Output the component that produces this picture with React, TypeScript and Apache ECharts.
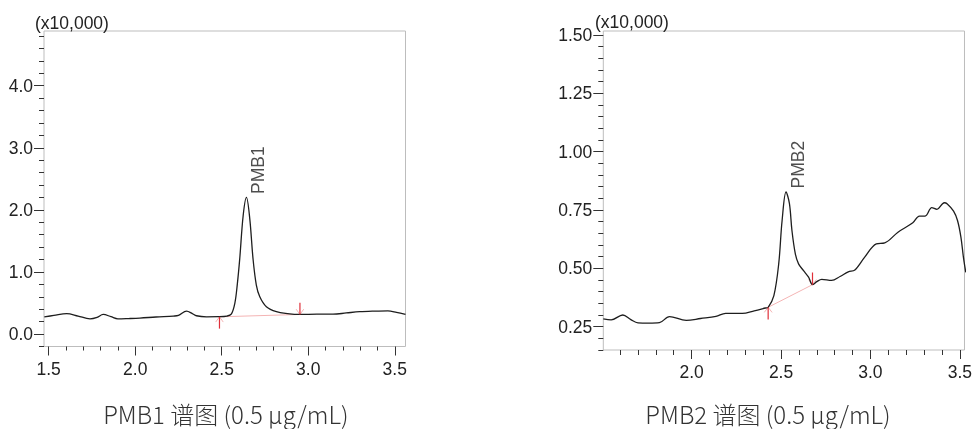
import React, { useEffect, useRef } from "react";
import * as echarts from "echarts";

// ---- Left chromatogram (PMB1) ----
const x1 = [1.475, 1.53, 1.604, 1.67, 1.739, 1.78, 1.815, 1.86, 1.90, 1.96, 2.027, 2.12, 2.22, 2.25, 2.297, 2.33, 2.354, 2.412, 2.48, 2.53, 2.555, 2.576, 2.59, 2.604, 2.624, 2.643, 2.662, 2.681, 2.70, 2.72, 2.758, 2.816, 2.88, 2.952, 3.05, 3.143, 3.22, 3.297, 3.38, 3.46, 3.51, 3.562];
const y1 = [0.278, 0.30, 0.33, 0.29, 0.246, 0.27, 0.316, 0.28, 0.246, 0.25, 0.257, 0.275, 0.29, 0.30, 0.37, 0.33, 0.295, 0.278, 0.28, 0.29, 0.32, 0.50, 0.80, 1.21, 1.91, 2.20, 1.86, 1.21, 0.79, 0.60, 0.44, 0.36, 0.33, 0.316, 0.32, 0.32, 0.34, 0.36, 0.37, 0.375, 0.35, 0.316];
const base1X = [2.487, 2.952];
const base1Y = [0.278, 0.316];
const peak1 = [2.643, 2.20];

// ---- Right chromatogram (PMB2) ----
const x2 = [1.506, 1.55, 1.615, 1.66, 1.70, 1.76, 1.82, 1.876, 1.97, 2.05, 2.136, 2.19, 2.283, 2.35, 2.413, 2.428, 2.46, 2.487, 2.506, 2.528, 2.547, 2.561, 2.58, 2.598, 2.626, 2.654, 2.676, 2.70, 2.728, 2.783, 2.83, 2.876, 2.913, 2.968, 3.033, 3.08, 3.154, 3.237, 3.274, 3.306, 3.343, 3.372, 3.413, 3.43, 3.465, 3.487, 3.506, 3.52, 3.533];
const y2 = [0.283, 0.279, 0.30, 0.28, 0.266, 0.265, 0.267, 0.293, 0.277, 0.285, 0.294, 0.307, 0.307, 0.318, 0.330, 0.333, 0.383, 0.519, 0.705, 0.827, 0.777, 0.662, 0.562, 0.519, 0.490, 0.462, 0.430, 0.443, 0.453, 0.448, 0.465, 0.485, 0.493, 0.548, 0.605, 0.609, 0.655, 0.695, 0.724, 0.724, 0.76, 0.753, 0.781, 0.776, 0.745, 0.705, 0.634, 0.548, 0.483];
const base2X = [2.428, 2.676];
const base2Y = [0.333, 0.430];
const peak2 = [2.528, 0.827];

// ---- Axes ticks / labels ----
const xMajor1 = [1.5, 2.0, 2.5, 3.0, 3.5];
const xMinor1 = [1.6, 1.7, 1.8, 1.9, 2.1, 2.2, 2.3, 2.4, 2.6, 2.7, 2.8, 2.9, 3.1, 3.2, 3.3, 3.4];
const yMajor1 = [0, 1, 2, 3, 4];
const yMinor1 = [-0.2, 0.2, 0.4, 0.6, 0.8, 1.2, 1.4, 1.6, 1.8, 2.2, 2.4, 2.6, 2.8, 3.2, 3.4, 3.6, 3.8, 4.2, 4.4, 4.6, 4.8];
const xMajor2 = [2.0, 2.5, 3.0, 3.5];
const xMinor2 = [1.6, 1.7, 1.8, 1.9, 2.1, 2.2, 2.3, 2.4, 2.6, 2.7, 2.8, 2.9, 3.1, 3.2, 3.3, 3.4];
const yMajor2 = [0.25, 0.5, 0.75, 1.0, 1.25, 1.5];
const yMinor2 = [0.15, 0.2, 0.3, 0.35, 0.4, 0.45, 0.55, 0.6, 0.65, 0.7, 0.8, 0.85, 0.9, 0.95, 1.05, 1.1, 1.15, 1.2, 1.3, 1.35, 1.4, 1.45];

const unitLabel = "(x10,000)";
const caption1 = "PMB1 谱图 (0.5 μg/mL)";
const caption2 = "PMB2 谱图 (0.5 μg/mL)";
const peakName1 = "PMB1";
const peakName2 = "PMB2";

const FONT = "'Liberation Sans', Arial, sans-serif";
const CJK = "'Noto Sans CJK SC', 'Noto Sans', sans-serif";
const FS = 17.5;

export default function App() {
  const ref = useRef<HTMLDivElement>(null);
  useEffect(() => {
    const chart = echarts.init(ref.current!, null, { renderer: "svg" });
    const pair = (xs: number[], ys: number[]) => xs.map((x, i) => [x, ys[i]]);

    const axis = (gridIndex: number, pos: string, min: number, max: number, ticks: number[], len: number, labels: boolean, digits: number, margin: number) => ({
      type: "value",
      gridIndex,
      position: pos,
      min,
      max,
      axisLine: { show: false, onZero: false },
      splitLine: { show: false },
      axisTick: { show: true, length: len, customValues: ticks, lineStyle: { color: "#333", width: 1 } },
      axisLabel: labels
        ? { show: true, customValues: ticks, formatter: (v: number) => v.toFixed(digits), margin, color: "#222", fontSize: FS, fontFamily: FONT }
        : { show: false },
    });

    const lineSeries = (xi: number, yi: number, data: number[][], color: string, width: number, smooth: number | boolean, z = 2) => ({
      type: "line",
      xAxisIndex: xi,
      yAxisIndex: yi,
      data,
      smooth,
      showSymbol: false,
      symbol: "none",
      lineStyle: { color, width },
      z,
      silent: true,
    });

    const chevron = (x: number, y: number, dx: number, dy: number) => [[x - dx, y + dy], [x, y], [x + dx, y + dy]];

    const peakLabel = (xi: number, yi: number, p: number[], text: string) => ({
      type: "scatter",
      xAxisIndex: xi,
      yAxisIndex: yi,
      data: [p],
      symbolSize: 1,
      itemStyle: { color: "rgba(0,0,0,0)" },
      label: {
        show: true,
        formatter: text,
        position: [12, -3],
        rotate: 90,
        align: "left",
        verticalAlign: "middle",
        color: "#222",
        fontSize: FS,
        fontFamily: FONT,
      },
      z: 5,
      silent: true,
    });

    const pink = "#f4b4b4";
    const red = "#e0303a";

    chart.setOption({
      animation: false,
      grid: [
        { left: 44, top: 31, width: 361.5, height: 315.5, show: true, borderColor: "#bdbdbd", borderWidth: 1 },
        { left: 603.3, top: 31, width: 363.7, height: 319, show: true, borderColor: "#bdbdbd", borderWidth: 1 },
      ],
      xAxis: [
        axis(0, "bottom", 1.473, 3.562, xMajor1, 9, true, 1, 13),
        axis(0, "bottom", 1.473, 3.562, xMinor1, 4, false, 1, 0),
        axis(1, "bottom", 1.506, 3.526, xMajor2, 9, true, 1, 13),
        axis(1, "bottom", 1.506, 3.526, xMinor2, 5, false, 1, 0),
      ],
      yAxis: [
        axis(0, "left", -0.2, 4.88, yMajor1, 10, true, 1, 11),
        axis(0, "left", -0.2, 4.88, yMinor1, 5, false, 1, 0),
        axis(1, "left", 0.15, 1.517, yMajor2, 10, true, 2, 11),
        axis(1, "left", 0.15, 1.517, yMinor2, 5, false, 2, 0),
      ],
      series: [
        lineSeries(0, 0, pair(base1X, base1Y), pink, 1, false, 1),
        lineSeries(0, 0, chevron(base1X[0], base1Y[0], 0.022, -0.085), pink, 1, false, 1),
        lineSeries(0, 0, chevron(base1X[1], base1Y[1], 0.022, 0.085), pink, 1, false, 1),
        lineSeries(0, 0, [[base1X[0], base1Y[0]], [base1X[0], base1Y[0] - 0.19]], red, 1.2, false, 3),
        lineSeries(0, 0, [[base1X[1], base1Y[1]], [base1X[1], base1Y[1] + 0.19]], red, 1.2, false, 3),
        lineSeries(0, 0, pair(x1, y1), "#1e1e1e", 1.3, 0.35, 2),
        peakLabel(0, 0, peak1, peakName1),

        lineSeries(2, 2, pair(base2X, base2Y), pink, 1, false, 1),
        lineSeries(2, 2, chevron(base2X[0], base2Y[0], 0.022, -0.022), pink, 1, false, 1),
        lineSeries(2, 2, chevron(base2X[1], base2Y[1], 0.022, 0.022), pink, 1, false, 1),
        lineSeries(2, 2, [[base2X[0], base2Y[0]], [base2X[0], base2Y[0] - 0.052]], red, 1.2, false, 3),
        lineSeries(2, 2, [[base2X[1], base2Y[1]], [base2X[1], base2Y[1] + 0.052]], red, 1.2, false, 3),
        lineSeries(2, 2, pair(x2, y2), "#1e1e1e", 1.3, 0.35, 2),
        peakLabel(2, 2, peak2, peakName2),
      ],
      graphic: [
        { type: "text", x: 35, y: 23, style: { text: unitLabel, fill: "#222", font: `${FS}px ${FONT}`, textVerticalAlign: "middle" } },
        { type: "text", x: 595, y: 22, style: { text: unitLabel, fill: "#222", font: `${FS}px ${FONT}`, textVerticalAlign: "middle" } },
        { type: "text", x: 225.8, y: 413, style: { text: caption1, fill: "#333", font: `300 24px ${CJK}`, textAlign: "center", textVerticalAlign: "middle" } },
        { type: "text", x: 768, y: 413, style: { text: caption2, fill: "#333", font: `300 24px ${CJK}`, textAlign: "center", textVerticalAlign: "middle" } },
      ],
    });
    return () => chart.dispose();
  }, []);

  return <div ref={ref} style={{ position: "fixed", left: 0, top: 0, width: 975, height: 429 }} />;
}
